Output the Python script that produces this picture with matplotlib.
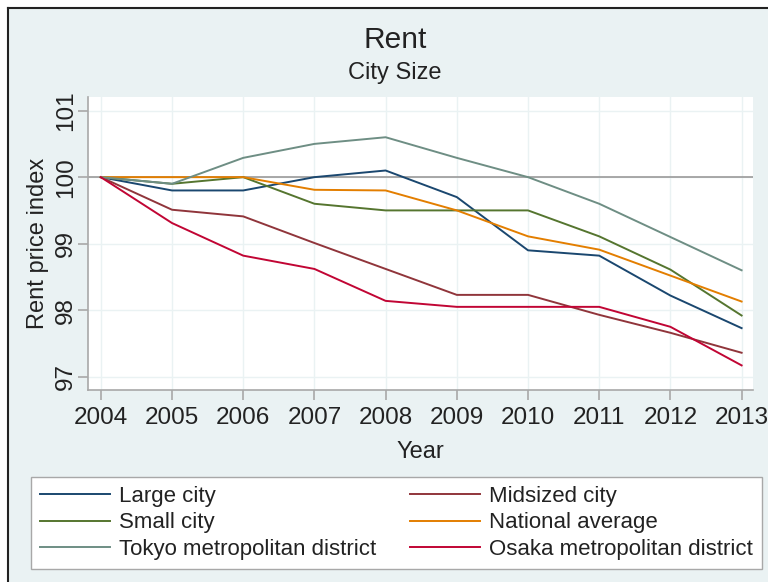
import matplotlib
matplotlib.use("Agg")
import matplotlib.pyplot as plt
from matplotlib.lines import Line2D
from matplotlib.patches import Rectangle

plt.rcParams['font.family'] = ['Liberation Sans', 'DejaVu Sans']

years = [2004, 2005, 2006, 2007, 2008, 2009, 2010, 2011, 2012, 2013]
large_city = [100.0, 99.8, 99.8, 100.0, 100.1, 99.7, 98.9, 98.82, 98.22, 97.73]
midsized_city = [100.0, 99.51, 99.41, 99.01, 98.62, 98.23, 98.23, 97.93, 97.66, 97.36]
small_city = [100.0, 99.9, 100.0, 99.6, 99.5, 99.5, 99.5, 99.11, 98.61, 97.92]
national_average = [100.0, 100.0, 100.0, 99.81, 99.8, 99.5, 99.11, 98.91, 98.52, 98.13]
tokyo = [100.0, 99.9, 100.29, 100.5, 100.6, 100.29, 100.0, 99.6, 99.1, 98.6]
osaka = [100.0, 99.31, 98.82, 98.62, 98.14, 98.05, 98.05, 98.05, 97.75, 97.17]

series_names = ["Large city", "Midsized city", "Small city", "National average",
                "Tokyo metropolitan district", "Osaka metropolitan district"]
series_values = [large_city, midsized_city, small_city, national_average, tokyo, osaka]
colors = ["#1a476f", "#90353b", "#55752f", "#e37e00", "#6e8e84", "#c10534"]
y_ticks = [97, 98, 99, 100, 101]

W, H = 768, 582
fig = plt.figure(figsize=(W / 100, H / 100), dpi=100)
fig.patch.set_facecolor("white")
# background panel with dark top/left border
fig.add_artist(Rectangle((8 / W, 0), 1, 1 - 8 / H, transform=fig.transFigure,
                         facecolor="#eaf2f3", edgecolor="none", zorder=-10))
fig.add_artist(Line2D([8 / W, 8 / W], [0, 1 - 8 / H], transform=fig.transFigure,
                      color="#222222", lw=1.5))
fig.add_artist(Line2D([8 / W, 1], [1 - 8 / H, 1 - 8 / H], transform=fig.transFigure,
                      color="#222222", lw=1.5))

left, right, top, bottom = 88, 753, 97, 390
ax = fig.add_axes([left / W, 1 - bottom / H, (right - left) / W, (bottom - top) / H])
ax.set_facecolor("white")

ax.set_xlim(2003.82, 2013.16)
ax.set_ylim(96.80, 101.205)
ax.set_xticks(years)
ax.set_yticks(y_ticks)
ax.grid(True, color="#eaf2f3", lw=1.0)
ax.set_axisbelow(True)
ax.axhline(100, color="#9a9a9a", lw=1.2, zorder=1)

for name, vals, c in zip(series_names, series_values, colors):
    ax.plot(years, vals, color=c, lw=1.4, label=name, zorder=3)

for s in ["top", "right"]:
    ax.spines[s].set_visible(False)
for s in ["left", "bottom"]:
    ax.spines[s].set_color("#a8a8a8")
    ax.spines[s].set_linewidth(1.2)
ax.tick_params(axis="both", colors="#a8a8a8", length=7, width=1.2, labelcolor="#222222",
               labelsize=17.5)
ax.tick_params(axis="y", pad=1)
ax.tick_params(axis="x", pad=5)
for lab in ax.get_yticklabels():
    lab.set_rotation(90)
    lab.set_va("center")

ax.set_xlabel("Year", fontsize=17, color="#222222", labelpad=9)
ax.set_ylabel("Rent price index", fontsize=17, color="#222222", labelpad=4)

fig.text(395 / W, 1 - 40 / H, "Rent", fontsize=21.5, ha="center", va="center", color="#222222")
fig.text(395 / W, 1 - 73 / H, "City Size", fontsize=17, ha="center", va="center", color="#222222")

# legend: row-major order (matplotlib fills column-wise)
order = [0, 2, 4, 1, 3, 5]
handles = [Line2D([], [], color=colors[i], lw=1.4) for i in order]
labels = [series_names[i] for i in order]
leg = fig.legend(handles, labels, loc="lower left",
                 bbox_to_anchor=(31 / W, 1 - 569 / H, (762 - 31) / W, (569 - 479) / H),
                 mode="expand", ncol=2, fontsize=16, frameon=True, fancybox=False,
                 edgecolor="#a8a8a8", facecolor="white", framealpha=1,
                 handlelength=3.15, handletextpad=0.4, labelspacing=0.24,
                 borderaxespad=0, borderpad=0.42, columnspacing=1.0)
leg.get_frame().set_linewidth(1.0)
for t in leg.get_texts():
    t.set_color("#222222")

fig.savefig("out.png", dpi=100, facecolor=fig.get_facecolor())
